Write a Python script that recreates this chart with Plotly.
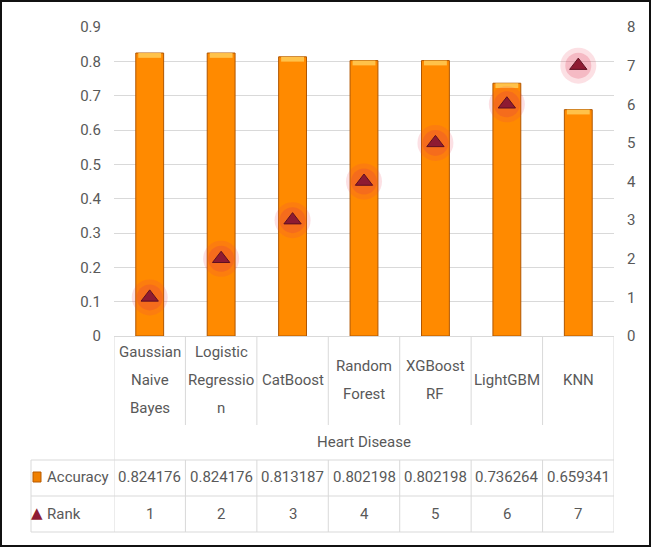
import plotly.graph_objects as go

categories = ["Gaussian<br>Naive<br>Bayes", "Logistic<br>Regressio<br>n", "CatBoost",
              "Random<br>Forest", "XGBoost<br>RF", "LightGBM", "KNN"]
accuracy = [0.824176, 0.824176, 0.813187, 0.802198, 0.802198, 0.736264, 0.659341]
rank = [1, 2, 3, 4, 5, 6, 7]
group_label = "Heart Disease"
series_names = ["Accuracy", "Rank"]
left_ticks = [0, 0.1, 0.2, 0.3, 0.4, 0.5, 0.6, 0.7, 0.8, 0.9]
right_ticks = [0, 1, 2, 3, 4, 5, 6, 7, 8]

W, H = 651, 547
L, R, T, B = 114, 37, 27, 211
PW, PH = W - L - R, H - T - B
FONT = "Roboto, Liberation Sans, sans-serif"
FS = 15
TXT = "#595959"
GRID = "#d9d9d9"


def xp(px):
    return (px - L) / PW


def yp(py):
    return (H - B - py) / PH


def tf():
    return dict(family=FONT, size=FS, color=TXT)


n = len(categories)
xs = list(range(n))

fig = go.Figure()
fig.add_trace(go.Bar(x=xs, y=accuracy, name=series_names[0], width=0.39,
                     marker=dict(color="#FF8A00", line=dict(color="#B05600", width=1))))
# lighter bevel cap on each bar
cap = 0.014
fig.add_trace(go.Bar(x=xs, y=[cap] * n, base=[a - cap for a in accuracy], width=0.32,
                     marker=dict(color="#FFC24A", line=dict(width=0)), hoverinfo="skip",
                     showlegend=False))
# glow behind rank markers
fig.add_trace(go.Scatter(x=xs, y=rank, yaxis="y2", mode="markers", showlegend=False,
                         marker=dict(symbol="circle", size=36, color="rgba(235,60,90,0.16)"),
                         hoverinfo="skip"))
fig.add_trace(go.Scatter(x=xs, y=rank, yaxis="y2", mode="markers", showlegend=False,
                         marker=dict(symbol="circle", size=26, color="rgba(225,50,80,0.22)"),
                         hoverinfo="skip"))
fig.add_trace(go.Scatter(x=xs, y=rank, yaxis="y2", mode="markers", name=series_names[1],
                         marker=dict(symbol="triangle-up", size=15, color="#8E1B32",
                                     line=dict(color="#5E0F20", width=1))))

shapes = []
ann = []
line_style = dict(color=GRID, width=1)

# vertical lines in category-label area
for i in range(n + 1):
    xv = i - 0.5
    bottom = 532 if i in (0, n) else 425
    shapes.append(dict(type="line", xref="x", yref="paper", x0=xv, x1=xv,
                       y0=yp(336), y1=yp(bottom), line=line_style))
    if i not in (0, n):
        shapes.append(dict(type="line", xref="x", yref="paper", x0=xv, x1=xv,
                           y0=yp(460), y1=yp(532), line=line_style))
# horizontal lines of the data table
for py in (460, 496, 532):
    shapes.append(dict(type="line", xref="paper", yref="paper", x0=xp(31), x1=xp(614),
                       y0=yp(py), y1=yp(py), line=line_style))
shapes.append(dict(type="line", xref="paper", yref="paper", x0=xp(31), x1=xp(31),
                   y0=yp(460), y1=yp(532), line=line_style))

# category labels, line by line
LH = 28
for i, c in enumerate(categories):
    parts = c.split("<br>")
    y0 = 380 - (len(parts) - 1) * LH / 2
    for k, p in enumerate(parts):
        ann.append(dict(x=i, y=yp(y0 + k * LH), xref="x", yref="paper", text=p,
                        showarrow=False, font=tf(), xanchor="center", yanchor="middle"))
ann.append(dict(x=(n - 1) / 2, y=yp(442), xref="x", yref="paper", text=group_label,
                showarrow=False, font=tf(), xanchor="center", yanchor="middle"))

# value rows
for i in range(n):
    ann.append(dict(x=i, y=yp(477), xref="x", yref="paper", text=f"{accuracy[i]:.6f}",
                    showarrow=False, font=tf(), xanchor="center", yanchor="middle"))
    ann.append(dict(x=i, y=yp(514), xref="x", yref="paper", text=str(rank[i]),
                    showarrow=False, font=tf(), xanchor="center", yanchor="middle"))

# legend keys
shapes.append(dict(type="rect", xref="paper", yref="paper", x0=xp(33), x1=xp(41),
                   y0=yp(482), y1=yp(472), fillcolor="#F08000", line=dict(color="#B85A00", width=1)))
ann.append(dict(x=xp(45), y=yp(477), xref="paper", yref="paper", text=series_names[0],
                showarrow=False, xanchor="left", yanchor="middle", font=tf()))
ann.append(dict(x=xp(37), y=yp(513), xref="paper", yref="paper", text="▲",
                showarrow=False, xanchor="center", yanchor="middle",
                font=dict(family="DejaVu Sans", size=15, color="#8E1B32")))
ann.append(dict(x=xp(45), y=yp(514), xref="paper", yref="paper", text=series_names[1],
                showarrow=False, xanchor="left", yanchor="middle", font=tf()))

# outer border
shapes.append(dict(type="rect", xref="paper", yref="paper", x0=xp(1), x1=xp(650),
                   y0=yp(1), y1=yp(546), line=dict(color="#111111", width=2)))

fig.update_layout(
    width=W, height=H, margin=dict(l=L, r=R, t=T, b=B, pad=0),
    paper_bgcolor="white", plot_bgcolor="white", showlegend=False, barmode="overlay",
    font=tf(),
    xaxis=dict(range=[-0.5, n - 0.5], showticklabels=False, showgrid=False, zeroline=False,
               showline=True, linecolor=GRID, linewidth=1, ticks=""),
    yaxis=dict(range=[0, 0.9], tickvals=left_ticks, ticktext=[f"{v:g}" for v in left_ticks],
               showgrid=True, gridcolor=GRID, gridwidth=1, zeroline=False, ticks="",
               ticklabelstandoff=12, tickfont=tf()),
    yaxis2=dict(range=[0, 8], tickvals=right_ticks, overlaying="y", side="right",
                showgrid=False, zeroline=False, ticks="", ticklabelstandoff=12,
                tickfont=tf()),
    shapes=shapes, annotations=ann,
)
fig.write_html("out.html", config={"displayModeBar": False},
               post_script="document.body.style.margin='0';")
